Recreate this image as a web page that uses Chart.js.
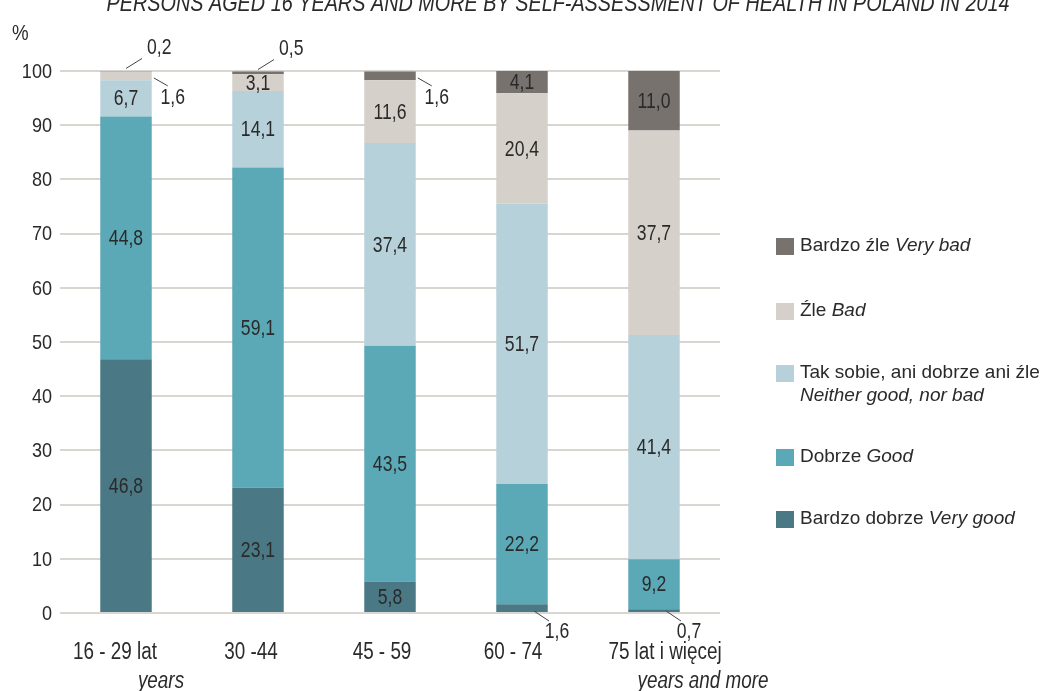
<!DOCTYPE html>
<html>
<head>
<meta charset="utf-8">
<script src="https://cdn.jsdelivr.net/npm/chart.js@4.4.1/dist/chart.umd.min.js"></script>
<style>
  html, body { margin: 0; padding: 0; background: #fff; }
  #wrap { width: 1048px; height: 691px; position: relative; }
</style>
</head>
<body>
<div id="wrap"><canvas id="c"></canvas></div>
<script>
// age groups (two-line labels: polish / english italic)
var ageLines1 = ['16 - 29 lat', '30 -44', '45 - 59', '60 - 74', '75 lat i więcej'];
var ageLines2 = ['years', '', '', '', 'years and more'];

// shares in %, bottom to top of each bar
var veryGood = [46.8, 23.1, 5.8, 1.6, 0.7];
var good     = [44.8, 59.1, 43.5, 22.2, 9.2];
var neither  = [6.7, 14.1, 37.4, 51.7, 41.4];
var bad      = [1.6, 3.1, 11.6, 20.4, 37.7];
var veryBad  = [0.2, 0.5, 1.6, 4.1, 11.0];

var yTicks = [0, 10, 20, 30, 40, 50, 60, 70, 80, 90, 100];

var seriesPl = ['Bardzo dobrze', 'Dobrze', 'Tak sobie, ani dobrze ani źle', 'Źle', 'Bardzo źle'];
var seriesEn = ['Very good', 'Good', 'Neither good, nor bad', 'Bad', 'Very bad'];

var TITLE = 'PERSONS AGED 16 YEARS AND MORE BY SELF-ASSESSMENT OF HEALTH IN POLAND IN 2014';

var COLORS = ['#4a7884', '#5ba8b6', '#b6d1d9', '#d6d0cb', '#78726e'];
var FONT = '"Liberation Sans", Arial, sans-serif';
var INK = '#2a2a2a';

// small segments get a leader line instead of an inside label
var callouts = {'4-0': 'up', '3-0': 'right', '4-1': 'up', '4-2': 'right', '0-3': 'down', '0-4': 'down'};
var xOff1 = [-11, -7, -8, -9, 11];
var xOff2 = [35, 0, 0, 0, 49];
var legendY = [246, 311, 373, 457, 519];

function fmt(v) { return v.toFixed(1).replace('.', ','); }

// source uses a condensed face; squeeze regular text horizontally
function narrowText(ctx, s, x, y, align, font, sx) {
    ctx.font = font;
    var w = ctx.measureText(s).width * sx;
    var left = align === 'center' ? x - w / 2 : (align === 'right' ? x - w : x);
    ctx.save();
    ctx.translate(left, y);
    ctx.scale(sx, 1);
    ctx.textAlign = 'left';
    ctx.fillText(s, 0, 0);
    ctx.restore();
}

var valueLabels = {
    id: 'valueLabels',
    afterDatasetsDraw: function (chart) {
        var ctx = chart.ctx;
        var f = '22px ' + FONT;
        ctx.save();
        ctx.fillStyle = INK;
        ctx.strokeStyle = '#444';
        ctx.lineWidth = 1;
        ctx.textBaseline = 'middle';
        chart.data.datasets.forEach(function (ds, di) {
            chart.getDatasetMeta(di).data.forEach(function (bar, i) {
                var v = ds.data[i];
                var p = bar.getProps(['x', 'y', 'base', 'width'], true);
                var top = Math.min(p.y, p.base), bot = Math.max(p.y, p.base);
                var kind = callouts[di + '-' + i];
                if (!kind) {
                    narrowText(ctx, fmt(v), p.x, (top + bot) / 2 + 1, 'center', f, 0.8);
                    return;
                }
                var sx, sy, ex, ey, tx, ty, al;
                if (kind === 'up') {
                    sx = p.x; sy = top - 2; ex = sx + 16; ey = sy - 10;
                    tx = ex + 5; ty = ey - 11; al = 'left';
                } else if (kind === 'right') {
                    sx = p.x + p.width / 2 + 2; sy = (top + bot) / 2 + 2; ex = sx + 14; ey = sy + 8;
                    tx = ex + 5; ty = ey + 12; al = 'center';
                } else {
                    sx = p.x + 12; sy = bot - 1; ex = sx + 15; ey = sy + 10;
                    tx = ex + 8; ty = ey + 11; al = 'center';
                }
                ctx.beginPath();
                ctx.moveTo(sx, sy);
                ctx.lineTo(ex, ey);
                ctx.stroke();
                narrowText(ctx, fmt(v), tx, ty, al, f, 0.8);
            });
        });
        ctx.restore();
    }
};

var decorations = {
    id: 'decorations',
    afterDraw: function (chart) {
        var ctx = chart.ctx;
        var xs = chart.scales.x, ys = chart.scales.y;
        ctx.save();
        ctx.fillStyle = INK;
        // title, cut off at the top edge as in the source
        ctx.textBaseline = 'alphabetic';
        ctx.font = 'italic 24px ' + FONT;
        var tw = ctx.measureText(TITLE).width;
        narrowText(ctx, TITLE, 558, 11, 'center', 'italic 24px ' + FONT, 903 / tw);
        ctx.textBaseline = 'middle';
        // unit
        narrowText(ctx, '%', 12, 34, 'left', '22px ' + FONT, 0.85);
        // y tick labels
        yTicks.forEach(function (v) {
            narrowText(ctx, String(v), 52, ys.getPixelForValue(v) + 1, 'right', '21px ' + FONT, 0.86);
        });
        // category labels
        ageLines1.forEach(function (t, i) {
            var x = xs.getPixelForValue(i);
            narrowText(ctx, t, x + xOff1[i], 653, 'center', '23px ' + FONT, 0.82);
            if (ageLines2[i]) {
                narrowText(ctx, ageLines2[i], x + xOff2[i], 682, 'center', 'italic 23px ' + FONT, 0.82);
            }
        });
        // legend, top entry = top segment
        ctx.textAlign = 'left';
        for (var k = 0; k < 5; k++) {
            var di = 4 - k;
            var y = legendY[k];
            ctx.fillStyle = COLORS[di];
            ctx.fillRect(776, y - 8, 18, 17);
            ctx.fillStyle = INK;
            ctx.font = '19px ' + FONT;
            var pl = seriesPl[di] + ' ';
            ctx.fillText(pl, 800, y);
            var w = ctx.measureText(pl).width;
            ctx.font = 'italic 19px ' + FONT;
            if (di === 2) {
                ctx.fillText(seriesEn[di], 800, y + 23);
            } else {
                ctx.fillText(seriesEn[di], 800 + w, y);
            }
        }
        ctx.restore();
    }
};

var series = [veryGood, good, neither, bad, veryBad];

new Chart(document.getElementById('c'), {
    type: 'bar',
    data: {
        labels: ageLines1,
        datasets: series.map(function (d, i) {
            return {
                label: seriesPl[i] + ' ' + seriesEn[i],
                data: d,
                backgroundColor: COLORS[i],
                borderWidth: 0,
                barPercentage: 0.39,
                categoryPercentage: 1
            };
        })
    },
    options: {
        responsive: true,
        maintainAspectRatio: false,
        animation: false,
        layout: {padding: {top: 71, right: 328, bottom: 78, left: 0}},
        plugins: {legend: {display: false}, tooltip: {enabled: false}, title: {display: false}},
        scales: {
            x: {
                stacked: true,
                grid: {display: false},
                border: {display: false},
                ticks: {display: false},
                afterFit: function (s) { s.height = 0; }
            },
            y: {
                stacked: true,
                min: 0,
                max: 100,
                afterBuildTicks: function (s) { s.ticks = yTicks.map(function (v) { return {value: v}; }); },
                afterFit: function (s) { s.width = 60; },
                border: {display: false},
                grid: {color: '#d9d5d0', lineWidth: 2, drawTicks: false},
                ticks: {display: false}
            }
        }
    },
    plugins: [valueLabels, decorations]
});
</script>
</body>
</html>
